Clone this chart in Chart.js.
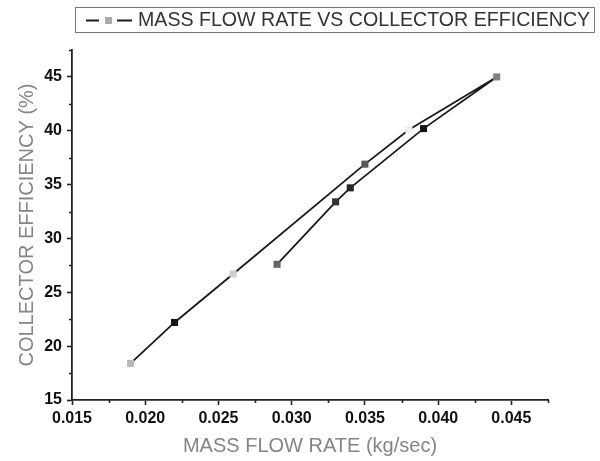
<!DOCTYPE html>
<html>
<head>
<meta charset="utf-8">
<script src="https://cdn.jsdelivr.net/npm/chart.js@4"></script>
<style>
  html, body { margin: 0; padding: 0; background: #fff; }
  #wrap { width: 600px; height: 461px; }
</style>
</head>
<body>
<div id="wrap"><canvas id="chart" width="600" height="461"></canvas></div>
<script>
// Data (in drawing order of the curve)
const massFlow = [0.019, 0.022, 0.026, 0.035, 0.038, 0.044, 0.039, 0.034, 0.033, 0.029];
const efficiency = [18.4, 22.2, 26.7, 36.9, 40.1, 45.0, 40.2, 34.7, 33.4, 27.6];
const seriesName = 'MASS FLOW RATE VS COLLECTOR EFFICIENCY';
const xTitle = 'MASS FLOW RATE (kg/sec)';
const yTitle = 'COLLECTOR EFFICIENCY (%)';

// Axis ranges / ticks
const xMin = 0.015, xMax = 0.0475, xStep = 0.0025;
const yMin = 15, yMax = 47.5, yStep = 2.5;

// marker fill for each point (the original uses mixed grey shades)
const markerColors = ['#b9b9b9', '#161616', '#cfcfcf', '#565656', '#efefef',
                      '#808080', '#141414', '#262626', '#333333', '#666666'];

const points = massFlow.map((x, i) => ({ x: x, y: efficiency[i] }));

function isMajor(v, step) {
    return Math.round(v / step) % 2 === 0;
}

// short minor ticks between labelled ones
const minorTicks = {
    id: 'minorTicks',
    afterDraw(chart) {
        const ctx = chart.ctx;
        const xs = chart.scales.x, ys = chart.scales.y;
        ctx.save();
        ctx.strokeStyle = '#222';
        ctx.lineWidth = 1.6;
        ctx.beginPath();
        xs.ticks.forEach(t => {
            if (isMajor(t.value, xStep)) return;
            const px = Math.round(xs.getPixelForValue(t.value)) + 0.5;
            ctx.moveTo(px, ys.bottom);
            ctx.lineTo(px, ys.bottom + 3);
        });
        ys.ticks.forEach(t => {
            if (isMajor(t.value, yStep)) return;
            const py = Math.round(ys.getPixelForValue(t.value)) + 0.5;
            ctx.moveTo(xs.left, py);
            ctx.lineTo(xs.left - 3, py);
        });
        ctx.stroke();
        ctx.restore();
    }
};

// boxed legend in the top right like the original
const boxLegend = {
    id: 'boxLegend',
    afterDraw(chart) {
        const ctx = chart.ctx;
        ctx.save();
        ctx.strokeStyle = '#777';
        ctx.lineWidth = 1;
        ctx.strokeRect(75.5, 7.5, 519, 25);
        ctx.strokeStyle = '#1a1a1a';
        ctx.lineWidth = 1.8;
        ctx.beginPath();
        ctx.moveTo(86, 20.5); ctx.lineTo(99, 20.5);
        ctx.moveTo(117, 20.5); ctx.lineTo(132, 20.5);
        ctx.stroke();
        ctx.fillStyle = '#aaaaaa';
        ctx.fillRect(105, 17, 7, 7);
        ctx.fillStyle = '#333';
        ctx.font = '19.6px "Liberation Sans", Arial, sans-serif';
        ctx.textBaseline = 'middle';
        ctx.textAlign = 'left';
        ctx.fillText(seriesName, 138, 21);
        ctx.restore();
    }
};

const tickFont = { family: '"Liberation Sans", Arial, sans-serif', size: 16, weight: 'bold' };
const titleFont = { family: '"Liberation Sans", Arial, sans-serif', size: 20 };

const chart = new Chart(document.getElementById('chart').getContext('2d'), {
    type: 'scatter',
    data: {
        datasets: [{
            label: seriesName,
            data: points,
            showLine: true,
            borderColor: '#1a1a1a',
            borderWidth: 1.8,
            pointStyle: 'rect',
            pointRadius: 5,
            pointHoverRadius: 5,
            pointBorderWidth: 0,
            pointBackgroundColor: markerColors
        }]
    },
    options: {
        responsive: false,
        animation: false,
        layout: { padding: { top: 50, right: 52, bottom: 0, left: 0 } },
        plugins: {
            legend: { display: false },
            tooltip: { enabled: false }
        },
        scales: {
            x: {
                type: 'linear',
                min: xMin,
                max: xMax,
                afterFit(scale) { scale.height = 61; },
                ticks: {
                    stepSize: xStep,
                    autoSkip: false,
                    maxRotation: 0,
                    padding: 4,
                    color: '#111',
                    font: tickFont,
                    callback: v => isMajor(v, xStep) ? v.toFixed(3) : ''
                },
                grid: {
                    drawOnChartArea: false,
                    drawTicks: true,
                    tickLength: 5,
                    tickWidth: 1.6,
                    tickColor: ctx => ctx.tick && isMajor(ctx.tick.value, xStep) ? '#222' : 'rgba(0,0,0,0)'
                },
                border: { display: true, color: '#222', width: 1.8 },
                title: {
                    display: true,
                    text: xTitle,
                    color: '#858585',
                    font: titleFont,
                    padding: { top: 0, bottom: 3 }
                }
            },
            y: {
                type: 'linear',
                min: yMin,
                max: yMax,
                afterFit(scale) { scale.width = 72; },
                ticks: {
                    stepSize: yStep,
                    autoSkip: false,
                    padding: 5,
                    color: '#111',
                    font: tickFont,
                    callback: v => isMajor(v, yStep) ? String(v) : ''
                },
                grid: {
                    drawOnChartArea: false,
                    drawTicks: true,
                    tickLength: 5,
                    tickWidth: 1.6,
                    tickColor: ctx => ctx.tick && isMajor(ctx.tick.value, yStep) ? '#222' : 'rgba(0,0,0,0)'
                },
                border: { display: true, color: '#222', width: 1.8 },
                title: {
                    display: true,
                    text: yTitle,
                    color: '#858585',
                    font: titleFont,
                    padding: { top: 15, bottom: 0 }
                }
            }
        }
    },
    plugins: [minorTicks, boxLegend]
});
</script>
</body>
</html>
